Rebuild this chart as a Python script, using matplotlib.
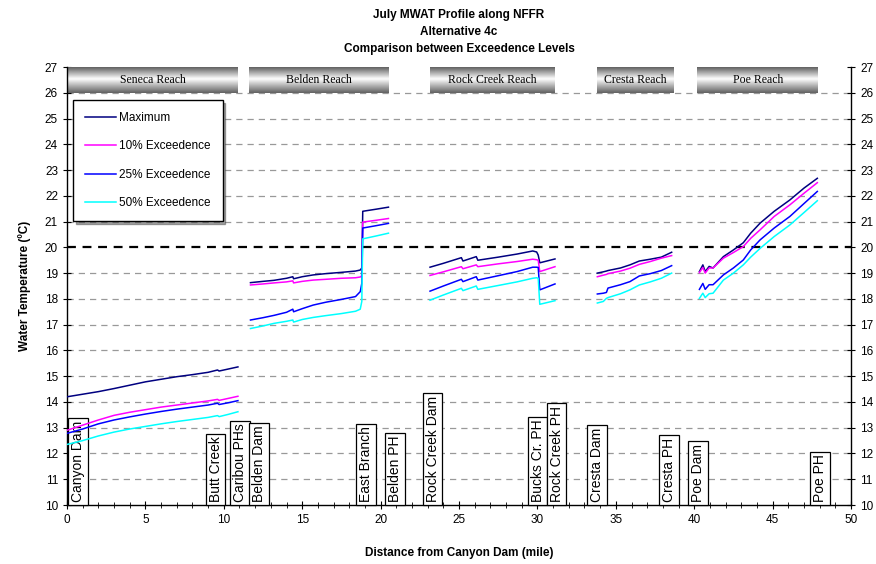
import numpy as np
import matplotlib
matplotlib.use('Agg')
from matplotlib import pyplot as plt
from matplotlib.ticker import MultipleLocator

plt.rcParams['font.family'] = ['Liberation Sans', 'DejaVu Sans']

# %% data, one block per reach
seneca_x = [0, 1, 2, 3, 4, 5, 6, 7, 8, 9, 9.6, 9.7, 10.3, 10.9]
seneca_max = [14.2, 14.3, 14.4, 14.52, 14.65, 14.78, 14.88, 14.98, 15.06, 15.15, 15.24, 15.2, 15.28, 15.36]
seneca_p10 = [12.9, 13.1, 13.3, 13.48, 13.6, 13.7, 13.8, 13.88, 13.96, 14.04, 14.1, 14.06, 14.14, 14.22]
seneca_p25 = [12.78, 12.95, 13.15, 13.3, 13.42, 13.53, 13.63, 13.72, 13.8, 13.88, 13.95, 13.9, 13.97, 14.05]
seneca_p50 = [12.35, 12.5, 12.68, 12.83, 12.95, 13.05, 13.15, 13.24, 13.32, 13.4, 13.47, 13.43, 13.52, 13.62]

belden_x = [11.7, 12.5, 13.2, 14.0, 14.4, 14.45, 15.0, 15.7, 16.5, 17.5, 18.4, 18.7, 18.8, 18.86, 19.7, 20.5]
belden_max = [18.63, 18.68, 18.72, 18.8, 18.86, 18.78, 18.86, 18.93, 18.98, 19.03, 19.08, 19.12, 19.2, 21.4, 21.48, 21.56]
belden_p10 = [18.54, 18.58, 18.62, 18.66, 18.7, 18.62, 18.68, 18.73, 18.76, 18.8, 18.82, 18.85, 18.9, 20.98, 21.05, 21.12]
belden_p25 = [17.18, 17.27, 17.36, 17.48, 17.6, 17.5, 17.62, 17.76, 17.87, 17.98, 18.09, 18.28, 18.6, 20.75, 20.84, 20.93]
belden_p50 = [16.85, 16.95, 17.05, 17.13, 17.18, 17.1, 17.2, 17.28, 17.35, 17.43, 17.52, 17.6, 17.9, 20.33, 20.44, 20.55]

rock_x = [23.15, 24.0, 25.15, 25.25, 26.1, 26.2, 27.5, 28.7, 29.7, 29.95, 30.05, 30.15, 31.12]
rock_max = [19.23, 19.38, 19.6, 19.47, 19.64, 19.5, 19.62, 19.74, 19.86, 19.82, 19.7, 19.4, 19.55]
rock_p10 = [18.91, 19.05, 19.25, 19.17, 19.32, 19.25, 19.36, 19.45, 19.54, 19.52, 19.5, 19.06, 19.25]
rock_p25 = [18.3, 18.5, 18.76, 18.67, 18.86, 18.73, 18.9, 19.06, 19.23, 19.23, 19.22, 18.35, 18.58]
rock_p50 = [17.95, 18.15, 18.41, 18.32, 18.5, 18.37, 18.52, 18.66, 18.8, 18.82, 18.8, 17.79, 17.93]

cresta_x = [33.82, 34.2, 34.4, 34.5, 35.3, 35.9, 36.5, 37.2, 37.9, 38.56]
cresta_max = [19.0, 19.05, 19.08, 19.1, 19.2, 19.32, 19.47, 19.54, 19.62, 19.81]
cresta_p10 = [18.86, 18.92, 18.95, 18.98, 19.08, 19.19, 19.34, 19.45, 19.58, 19.68]
cresta_p25 = [18.19, 18.22, 18.25, 18.42, 18.55, 18.67, 18.89, 18.98, 19.1, 19.29]
cresta_p50 = [17.84, 17.9, 18.02, 18.05, 18.2, 18.35, 18.54, 18.66, 18.8, 19.0]

poe_x = [40.33, 40.55, 40.7, 40.95, 41.2, 41.86, 42.5, 43.13, 43.6, 44.2, 45.1, 46.1, 47.0, 47.85]
poe_max = [19.06, 19.32, 19.06, 19.26, 19.2, 19.64, 19.9, 20.18, 20.55, 20.94, 21.4, 21.84, 22.3, 22.68]
poe_p10 = [19.02, 19.22, 19.0, 19.2, 19.2, 19.58, 19.8, 20.03, 20.35, 20.68, 21.2, 21.65, 22.1, 22.51]
poe_p25 = [18.37, 18.6, 18.37, 18.55, 18.55, 18.93, 19.2, 19.51, 19.9, 20.29, 20.75, 21.2, 21.7, 22.17]
poe_p50 = [18.02, 18.22, 18.05, 18.2, 18.22, 18.73, 19.0, 19.32, 19.62, 19.96, 20.42, 20.87, 21.35, 21.81]

series_labels = ['Maximum', '10% Exceedence', '25% Exceedence', '50% Exceedence']
series_colors = ['#000080', '#FF00FF', '#0000FF', '#00FFFF']

reach_names = ['Seneca Reach', 'Belden Reach', 'Rock Creek Reach', 'Cresta Reach', 'Poe Reach']
reach_start = [0, 11.6, 23.15, 33.8, 40.2]
reach_end = [10.9, 20.5, 31.1, 38.7, 47.9]

site_names = ['Canyon Dam', 'Butt Creek', 'Caribou PHs', 'Belden Dam', 'East Branch', 'Belden PH',
              'Rock Creek Dam', 'Bucks Cr. PH', 'Rock Creek PH', 'Cresta Dam', 'Cresta PH',
              'Poe Dam', 'Poe PH']
site_miles = [0.7, 9.47, 11.03, 12.24, 19.07, 20.92, 23.31, 30.01, 31.22, 33.8, 38.39, 40.24, 48.02]

reaches = [
    (seneca_x, [seneca_max, seneca_p10, seneca_p25, seneca_p50]),
    (belden_x, [belden_max, belden_p10, belden_p25, belden_p50]),
    (rock_x, [rock_max, rock_p10, rock_p25, rock_p50]),
    (cresta_x, [cresta_max, cresta_p10, cresta_p25, cresta_p50]),
    (poe_x, [poe_max, poe_p10, poe_p25, poe_p50]),
]

# %%
fig = plt.figure(figsize=(8.76, 5.64), dpi=100)
ax = fig.add_axes([0.0765, 0.1046, 0.895, 0.7766])
ax.set_xlim(0, 50)
ax.set_ylim(10, 27)

# grid
for yv in range(11, 27):
    if yv == 20:
        ax.axhline(yv, color='black', lw=1.6, ls=(0, (4, 3)), zorder=1)
    else:
        ax.axhline(yv, color='#999999', lw=0.9, ls=(0, (5, 4)), zorder=1)

# reach header bars
grad = np.concatenate([np.linspace(0.4, 0.97, 10), np.linspace(0.97, 0.4, 12)]).reshape(-1, 1)
for name, x0, x1 in zip(reach_names, reach_start, reach_end):
    ax.imshow(grad, cmap='gray', vmin=0, vmax=1, aspect='auto',
              extent=[x0, x1, 26, 27], zorder=2, interpolation='bilinear')
    ax.text((x0 + x1) / 2, 26.5, name, ha='center', va='center', fontsize=8.5,
            family='Liberation Serif', zorder=3)
ax.set_xlim(0, 50)
ax.set_ylim(10, 27)

# site labels
for name, xm in zip(site_names, site_miles):
    ax.annotate(name, (xm, 10), xytext=(0, 2), textcoords='offset points',
                rotation=90, ha='center', va='bottom', fontsize=10,
                bbox=dict(boxstyle='square,pad=0.2', fc='white', ec='black', lw=0.9),
                zorder=4)

# profiles
for xs, ys in reaches:
    for yv, lab, col in zip(ys, series_labels, series_colors):
        ax.plot(xs, yv, color=col, lw=1.1, zorder=5, label=lab if xs is seneca_x else None)

leg = ax.legend(loc='upper left', bbox_to_anchor=(0.008, 0.925), fontsize=8.5,
                fancybox=False, shadow=True, edgecolor='black', framealpha=1,
                labelspacing=1.4, handlelength=2.6, handletextpad=0.3,
                borderpad=1.0, borderaxespad=0)
leg.set_zorder(6)
leg.get_frame().set_linewidth(1)

ax.xaxis.set_major_locator(MultipleLocator(5))
ax.xaxis.set_minor_locator(MultipleLocator(1))
ax.yaxis.set_major_locator(MultipleLocator(1))
ax.tick_params(which='both', direction='inout', labelsize=8.5, right=True, labelright=True)
ax.tick_params(which='major', length=6)
ax.tick_params(which='minor', length=4)
for sp in ax.spines.values():
    sp.set_linewidth(1)
ax.spines['top'].set_visible(False)

ax.set_xlabel('Distance from Canyon Dam (mile)', fontsize=8.5, fontweight='bold', labelpad=15)
ax.set_ylabel('Water Temperature (ºC)', fontsize=8.5, fontweight='bold', labelpad=10)

fig.text(0.524, 0.984, 'July MWAT Profile along NFFR\nAlternative 4c\nComparison between Exceedence Levels',
         ha='center', va='top', fontsize=8.5, fontweight='bold', linespacing=1.55)

fig.savefig('out.png', dpi=100)
